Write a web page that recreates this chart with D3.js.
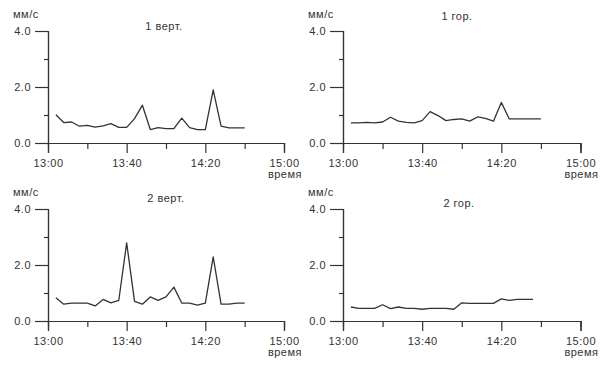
<!DOCTYPE html>
<html><head><meta charset="utf-8">
<script src="https://cdn.jsdelivr.net/npm/d3@7"></script>
<style>
body{margin:0;background:#fff;}
svg{display:block;font-family:"Liberation Sans",Arial,sans-serif;}
text{fill:#333;font-size:11px;letter-spacing:0.5px;}
</style></head>
<body><svg id="c" width="616" height="366"></svg>
<script>
// sample times (every 4 minutes)
const times = ["13:04","13:08","13:12","13:16","13:20","13:24","13:28","13:32","13:36","13:40","13:44","13:48","13:52","13:56","14:00","14:04","14:08","14:12","14:16","14:20","14:24","14:28","14:32","14:36","14:40"];
const titles = ["1 верт.","1 гор.","2 верт.","2 гор."];
const vert1 = [1.01,0.73,0.75,0.60,0.63,0.57,0.61,0.69,0.56,0.56,0.87,1.35,0.48,0.55,0.51,0.51,0.89,0.55,0.48,0.48,1.90,0.60,0.54,0.54,0.54];
const hor1  = [0.72,0.72,0.74,0.72,0.75,0.92,0.78,0.74,0.72,0.80,1.12,0.98,0.80,0.84,0.86,0.78,0.93,0.88,0.78,1.45,0.86,0.86,0.86,0.86,0.86];
const vert2 = [0.83,0.60,0.64,0.64,0.64,0.54,0.77,0.65,0.74,2.79,0.70,0.60,0.86,0.74,0.86,1.21,0.64,0.64,0.57,0.64,2.29,0.60,0.60,0.64,0.64];
const hor2  = [0.50,0.45,0.45,0.45,0.58,0.44,0.50,0.45,0.45,0.42,0.45,0.45,0.45,0.42,0.65,0.63,0.63,0.63,0.63,0.79,0.74,0.77,0.77,0.77];
const majorXTicks = ["13:00","13:40","14:20","15:00"];
const minorXTicks = ["13:20","14:00","14:40"];
const majorYTicks = [0,2,4];
const minorYTicks = [1,3];
const yUnit = "мм/с";
const xUnit = "время";

const series = [vert1,hor1,vert2,hor2];
const parse = d3.timeParse("%H:%M");
const fmt = d3.timeFormat("%H:%M");
const svg = d3.select("#c");

const panels = [
  {x0:48, x1:284, y0:143, y1:31, titleX:164, titleY:30},
  {x0:343, x1:580.5, y0:143, y1:31, titleX:457, titleY:20},
  {x0:48, x1:284, y0:321, y1:209, titleX:166, titleY:202},
  {x0:343, x1:580.5, y0:321, y1:209, titleX:459, titleY:207}
];

panels.forEach((p,i)=>{
  const g = svg.append("g");
  const x = d3.scaleTime().domain([parse("13:00"),parse("15:00")]).range([p.x0,p.x1]);
  const y = d3.scaleLinear().domain([0,4]).range([p.y0,p.y1]);

  const xa = g.append("g").attr("transform",`translate(0,${p.y0})`)
    .call(d3.axisBottom(x).tickValues(majorXTicks.map(parse)).tickFormat(fmt).tickSize(10).tickPadding(4));
  g.append("g").attr("transform",`translate(0,${p.y0})`)
    .call(d3.axisBottom(x).tickValues(minorXTicks.map(parse)).tickFormat("").tickSize(6));
  g.append("g").attr("transform",`translate(${p.x0},0)`)
    .call(d3.axisLeft(y).tickValues(majorYTicks).tickFormat(d3.format(".1f")).tickSize(13).tickPadding(4));
  g.append("g").attr("transform",`translate(${p.x0},0)`)
    .call(d3.axisLeft(y).tickValues(minorYTicks).tickFormat("").tickSize(4));

  g.selectAll(".domain").attr("stroke","#333").attr("stroke-width",1.2);
  g.selectAll(".tick line").attr("stroke","#333").attr("stroke-width",1.2);
  g.selectAll(".tick text").attr("fill","#333").style("font-size","11px").style("letter-spacing","0.5px").style("font-family","'Liberation Sans',Arial,sans-serif");
  xa.selectAll(".tick text").attr("dy","0.9em");

  const data = series[i].map((v,k)=>({t:parse(times[k]),v}));
  g.append("path").datum(data)
    .attr("fill","none").attr("stroke","#333").attr("stroke-width",1.3).attr("stroke-linejoin","round")
    .attr("d",d3.line().x(d=>x(d.t)).y(d=>y(d.v)));

  g.append("text").attr("x",p.x0-35).attr("y",p.y1-13).text(yUnit);
  g.append("text").attr("x",p.x1+18).attr("y",p.y0+35).attr("text-anchor","end").text(xUnit);
  g.append("text").attr("x",p.titleX).attr("y",p.titleY).attr("text-anchor","middle").text(titles[i]);
});
</script></body></html>
